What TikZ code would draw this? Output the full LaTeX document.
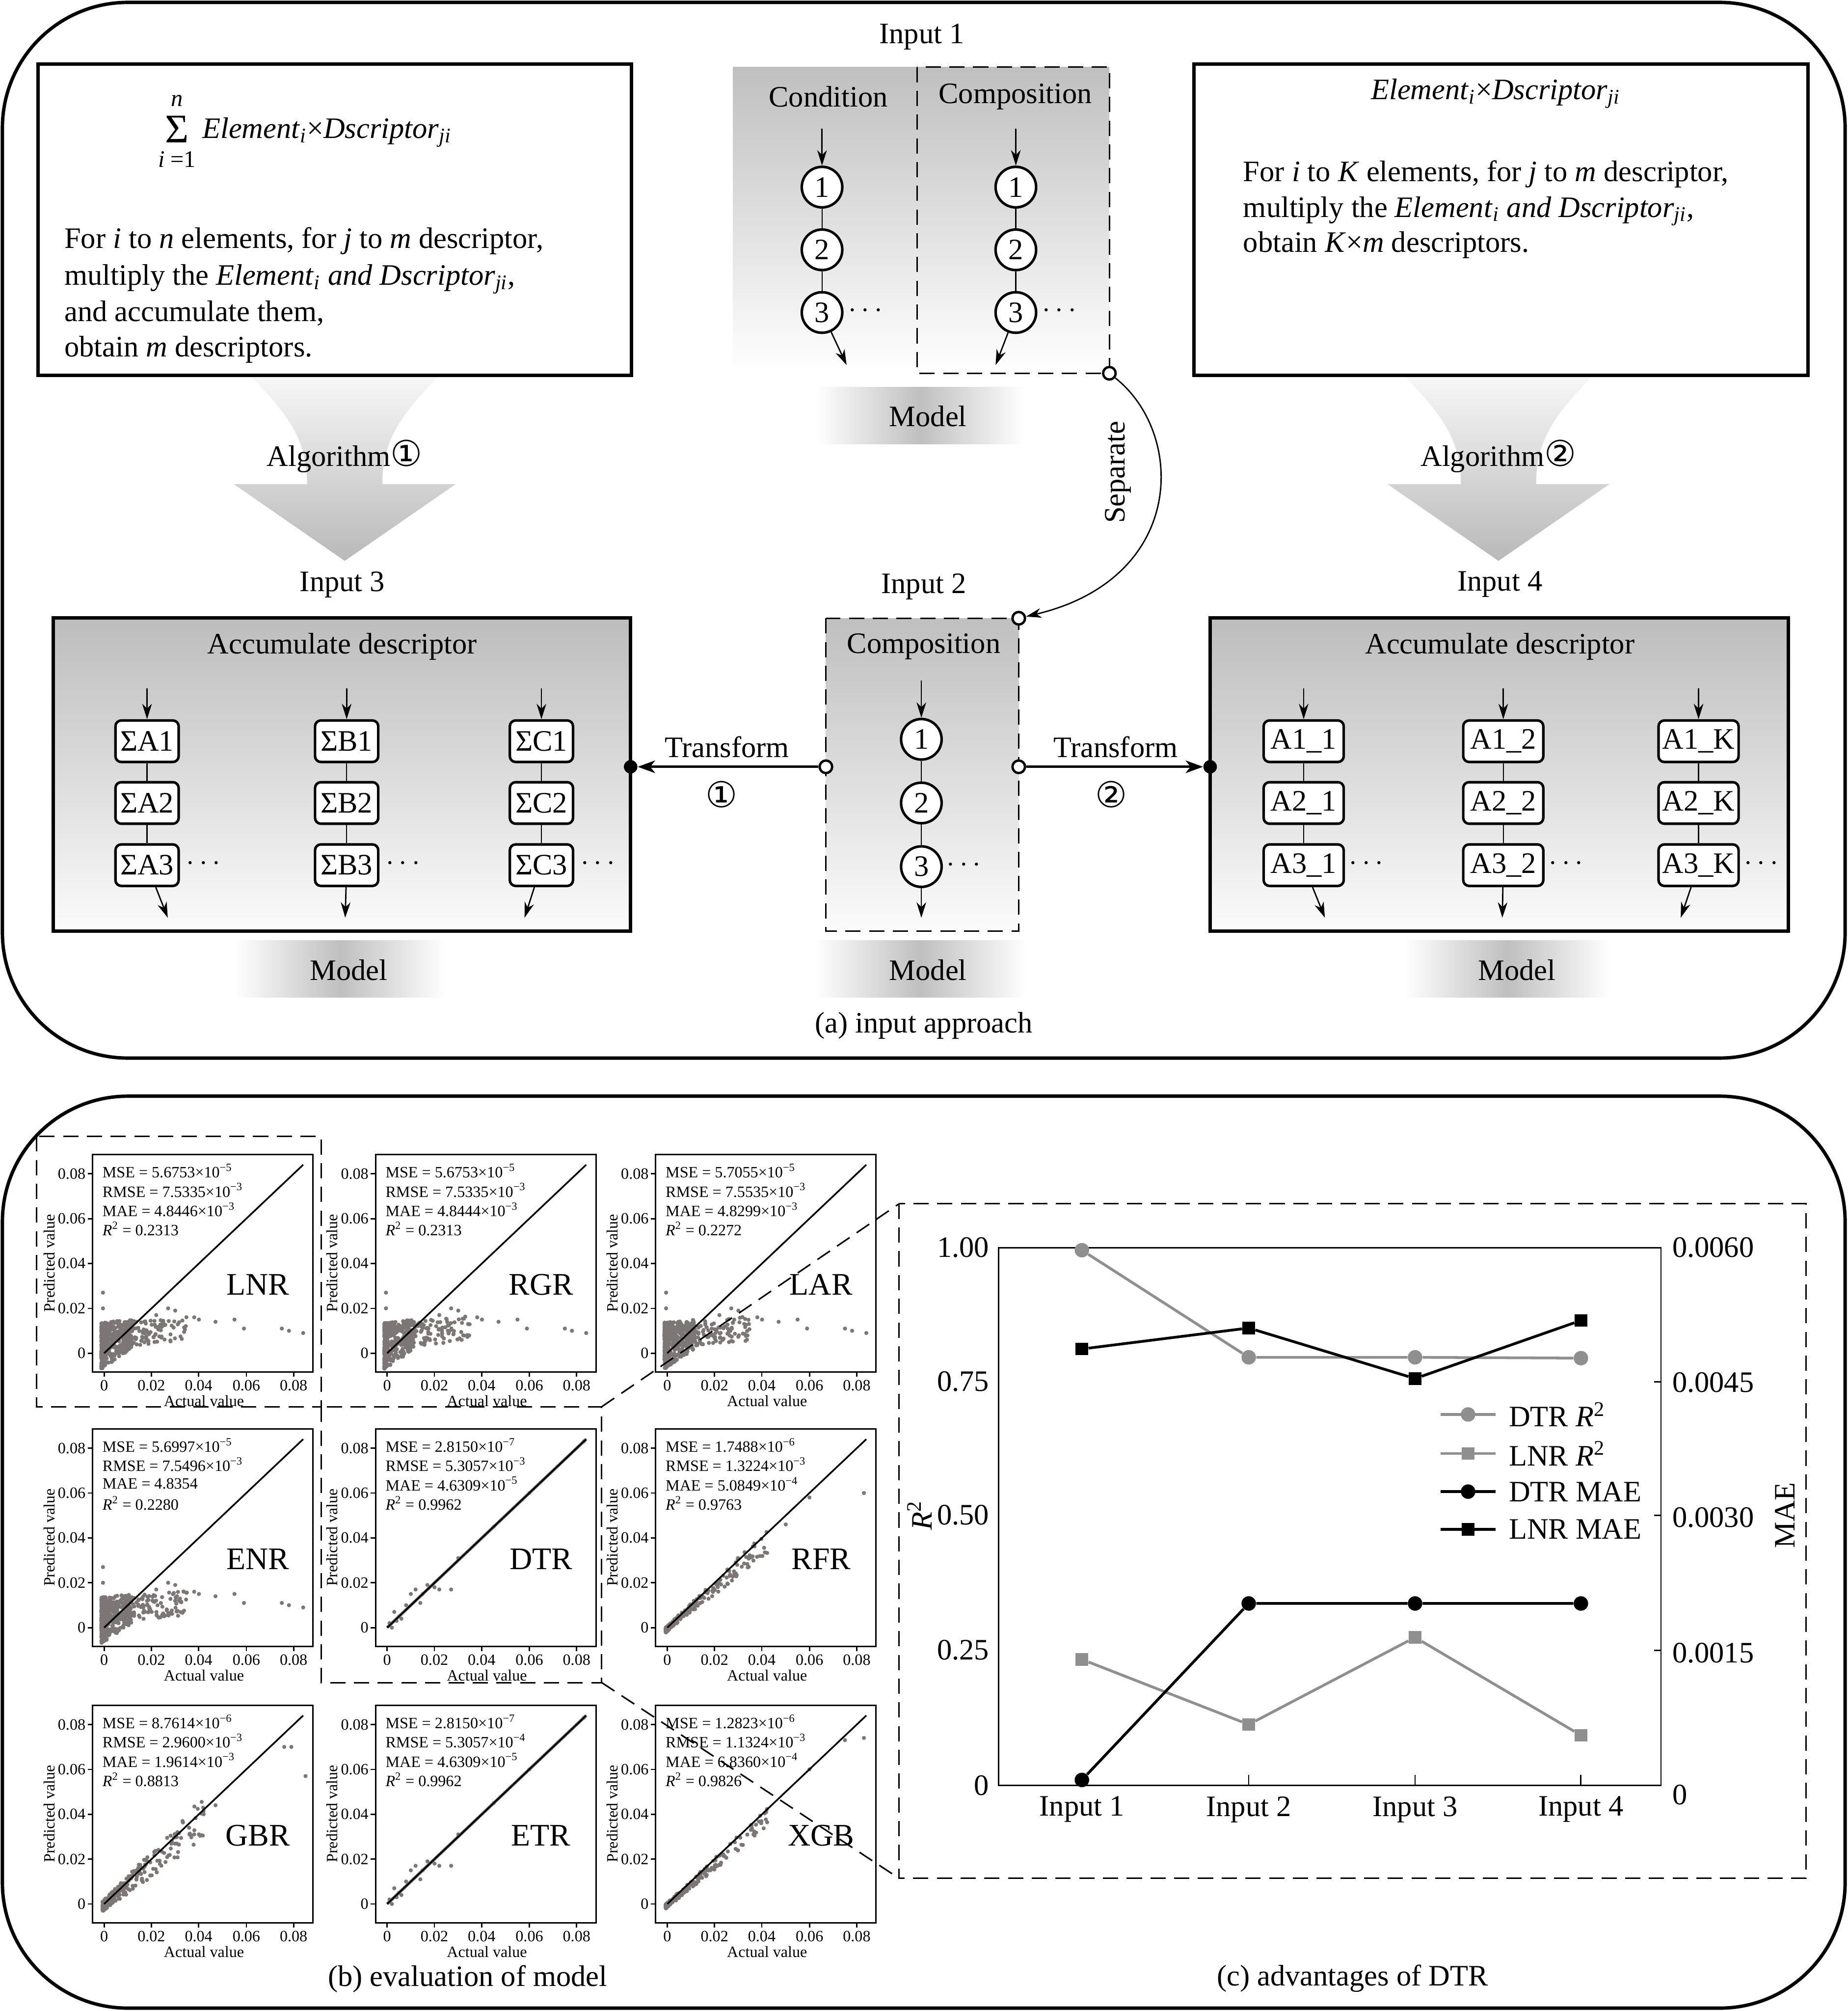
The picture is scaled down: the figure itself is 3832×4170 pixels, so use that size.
\documentclass[tikz,border=0pt]{standalone}
\usepackage{fontspec}
\setmainfont{Liberation Serif}
\newfontfamily\symfont{DejaVu Sans}
\usetikzlibrary{arrows.meta}
\definecolor{ptcol}{RGB}{125,118,118}
\definecolor{gser}{RGB}{143,143,143}
\newcommand\cnum[1]{{\symfont\fontsize{21}{21}\selectfont #1}}

\newcommand\PoorPts{%
\foreach \k in {1,...,380}{%
\pgfmathsetmacro\rr{rnd}%
\pgfmathsetmacro\xa{-1.2+13*\rr*\rr}%
\pgfmathsetmacro\ya{3.8+0.4*\xa+(10-0.3*\xa)*rand}%
\fill[ptcol] (\xa,\ya) circle[radius=1.2pt];}%
\foreach \k in {1,...,130}{%
\pgfmathsetmacro\rr{rnd}%
\pgfmathsetmacro\xa{8+27*\rr*sqrt(\rr)}%
\pgfmathsetmacro\ya{8.5+0.1*(\xa-9)+5.5*rand}%
\fill[ptcol] (\xa,\ya) circle[radius=1.2pt];}%
\foreach \xa/\ya in {-0.5/27,-0.5/20,22/17,27/20,30/19,38/16,40/15,47/14,55/15,59/11,75/11,78/10,84/9}{%
\fill[ptcol] (\xa,\ya) circle[radius=1.2pt];}}

\newcommand\GoodPts[2]{%
\foreach \k in {1,...,#1}{%
\pgfmathsetmacro\rr{rnd}%
\pgfmathsetmacro\xa{-0.6+43*\rr*\rr*\rr}%
\pgfmathsetmacro\ya{0.92*\xa-0.5+#2*(0.5+0.04*\xa)*rand}%
\fill[ptcol] (\xa,\ya) circle[radius=1.2pt];}}

\newcommand\FewPts{%
\draw[ptcol,line width=1.8pt] (0,0) -- (84,84);
\foreach \xa/\ya in {1/2,3/7,5/5,6/4,8/10,10/15,12/17,14/11,17/19,20/18,22/17,27/17,2/0,4/3,15/15,30/31,45/45,60/60,83/83}{%
\fill[ptcol] (\xa,\ya) circle[radius=1.2pt];}}

\newcommand\SPlot[9]{%
\begin{scope}[shift={(#1,#2)}]
\begin{scope}[shift={(24,412)},x=0.049125cm,y=0.0465cm]
\clip (-4.8,-8.3) rectangle (88,88.5);
#9
\end{scope}
\begin{scope}[shift={(24,412)},x=0.049125cm,y=0.0465cm]
\draw[line width=1pt] (0,0) -- (84,84);
\end{scope}
\draw[line width=0.9pt] (0,0) rectangle (457,451);
\foreach \yy/\lab [count=\ci] in {412/0,319/0.02,226/0.04,133/0.06,40/0.08}{%
\draw[line width=0.8pt] (0,\yy) -- (-10,\yy);
\node[small,anchor=east] (#3y\ci) at (-14,\yy) {\lab};}
\foreach \xx/\lab [count=\ci] in {24/0,122/0.02,220/0.04,319/0.06,417/0.08}{%
\draw[line width=0.8pt] (\xx,451) -- (\xx,461);
\node[small,anchor=north] (#3x\ci) at (\xx,467) {\lab};}
\node[small] (#3xl) at (231,511) {Actual value};
\node[small,rotate=90] (#3yl) at (-90,225) {Predicted value};
\node[small,anchor=west] (#3m1) at (20,34) {MSE = #5};
\node[small,anchor=west] (#3m2) at (20,74) {RMSE = #6};
\node[small,anchor=west] (#3m3) at (20,114) {MAE = #7};
\node[small,anchor=west] (#3m4) at (20,154) {\textit{R}\textsuperscript{2} = #8};
\node[big] (#3lab) at (343,270) {#4};
\end{scope}}

\newcommand\AlgArrow[1]{%
\shade[top color=gray!6, bottom color=gray!55] (#1-195,779) .. controls (#1-130,850) and (#1-78,900) .. (#1-78,1004) -- (#1-230,1004) -- (#1,1163) -- (#1+230,1004) -- (#1+78,1004) .. controls (#1+78,900) and (#1+130,850) .. (#1+195,779) -- cycle;}

\begin{document}
\begin{tikzpicture}[x=0.01cm, y=-0.01cm, inner sep=0pt,
  font=\fontsize{17.5}{21}\selectfont,
  txt/.style={font=\fontsize{17.5}{21}\selectfont, inner sep=0pt},
  small/.style={font=\fontsize{9.3}{11}\selectfont, inner sep=0pt},
  big/.style={font=\fontsize{18.5}{22}\selectfont, inner sep=0pt},
  panel/.style={draw, line width=2pt, rounded corners=2.6cm},
  thickbox/.style={draw, line width=2pt},
  dbox/.style={draw, line width=0.9pt, dash pattern=on 9pt off 5pt},
  cnode/.style={circle, draw, line width=1.5pt, fill=white, minimum size=0.84cm, inner sep=0pt},
  rnode/.style={rectangle, rounded corners=0.12cm, draw, line width=1.5pt, fill=white, minimum height=0.86cm, inner sep=1.5pt},
  link/.style={line width=0.7pt},
  arr/.style={line width=0.8pt, -{Stealth[length=0.32cm, width=0.2cm, inset=0.1cm]}},
  harr/.style={line width=1.4pt, -{Stealth[length=0.36cm, width=0.26cm, inset=0.1cm]}},
  opendot/.style={circle, draw, line width=1.4pt, fill=white, minimum size=0.26cm, inner sep=0pt},
  fulldot/.style={circle, fill=black, minimum size=0.28cm, inner sep=0pt},
  gline/.style={gser, line width=1.6pt},
  bline/.style={black, line width=1.6pt},
  gcirc/.style={circle, fill=gser, minimum size=0.3cm, inner sep=0pt},
  gsq/.style={rectangle, fill=gser, minimum size=0.26cm, inner sep=0pt},
  bcirc/.style={circle, fill=black, minimum size=0.3cm, inner sep=0pt},
  bsq/.style={rectangle, fill=black, minimum size=0.26cm, inner sep=0pt}]
\useasboundingbox (0,0) rectangle (3832,4170);

% ================= Panel (a) =================
\draw[panel] (5,5) rectangle (3827,2194);

\AlgArrow{715}
\AlgArrow{3108}
\node[txt] (alg1) at (715,946) {Algorithm\cnum{①}};
\node[txt] (alg2) at (3108,946) {Algorithm\cnum{②}};

% left text box
\draw[thickbox] (79,133) rectangle (1310,778);
\node[font=\fontsize{24}{24}\selectfont] (sum) at (367,268) {Σ};
\node[font=\fontsize{14}{14}\selectfont] (sumn) at (367,209) {\textit{n}};
\node[font=\fontsize{14}{14}\selectfont] (sumi) at (367,330) {\textit{i} =1};
\node[txt, anchor=base west] (f1) at (419,287) {\textit{Element}\textsubscript{\textit{i}}×\textit{Dscriptor}\textsubscript{\textit{ji}}};
\node[txt, anchor=base west] (l1) at (133,515) {For \textit{i} to \textit{n} elements, for \textit{j} to \textit{m} descriptor,};
\node[txt, anchor=base west] (l2) at (133,591) {multiply the \textit{Element}\textsubscript{\textit{i}} \textit{and Dscriptor}\textsubscript{\textit{ji}},};
\node[txt, anchor=base west] (l3) at (133,666) {and accumulate them,};
\node[txt, anchor=base west] (l4) at (133,740) {obtain \textit{m} descriptors.};

% right text box
\draw[thickbox] (2476,133) rectangle (3750,778);
\node[txt, anchor=base] (f2) at (3102,206) {\textit{Element}\textsubscript{\textit{i}}×\textit{Dscriptor}\textsubscript{\textit{ji}}};
\node[txt, anchor=base west] (r1) at (2578,376) {For \textit{i} to \textit{K} elements, for \textit{j} to \textit{m} descriptor,};
\node[txt, anchor=base west] (r2) at (2578,450) {multiply the \textit{Element}\textsubscript{\textit{i}} \textit{and Dscriptor}\textsubscript{\textit{ji}},};
\node[txt, anchor=base west] (r3) at (2578,523) {obtain \textit{K}×\textit{m} descriptors.};

% Input 1
\node[txt] (in1) at (1912,76) {Input 1};
\shade[top color=gray!50, bottom color=white] (1520,139) rectangle (2301,772);
\draw[dbox] (1902,139) rectangle (2301,774);
\node[txt] (cond) at (1718,200) {Condition};
\node[txt] (comp1) at (2106,200) {Composition};
\foreach \cx/\nm/\ox in {1705/a/1756, 2107/b/2065}{
  \node[cnode] (\nm1) at (\cx,388) {1};
  \node[cnode] (\nm2) at (\cx,518) {2};
  \node[cnode] (\nm3) at (\cx,648) {3};
  \coordinate (\nm0) at (\cx,267);
  \coordinate (\nm4) at (\ox,757);
  \draw[arr] (\nm0) -- (\nm1);
  \draw[link] (\nm1) -- (\nm2) -- (\nm3);
  \draw[arr] (\nm3) -- (\nm4);
  \node[txt] (\nm d) at (\cx+90,645) {$\cdots$};
}
\node[opendot] (sep1) at (2301,774) {};
\shade[left color=white, right color=white, middle color=gray!50] (1692,803) rectangle (2126,921);
\node[txt] (m1) at (1925,863) {Model};

% Input 2
\node[txt] (in2) at (1916,1217) {Input 2};
\shade[top color=gray!50, bottom color=gray!3] (1713,1282) rectangle (2113,1931);
\draw[dbox] (1713,1282) rectangle (2113,1931);
\node[txt] (comp2) at (1916,1341) {Composition};
\node[cnode] (c1) at (1911,1533) {1};
\node[cnode] (c2) at (1911,1665) {2};
\node[cnode] (c3) at (1911,1797) {3};
\coordinate (c0) at (1911,1411);
\coordinate (c4) at (1911,1903);
\draw[arr] (c0) -- (c1);
\draw[link] (c1) -- (c2) -- (c3);
\draw[arr] (c3) -- (c4);
\node[txt] (cd) at (1999,1794) {$\cdots$};
\node[opendot] (sep2) at (2113,1282) {};
\node[opendot] (tl) at (1713,1590) {};
\node[opendot] (tr) at (2113,1590) {};
\shade[left color=white, right color=white, middle color=gray!50] (1689,1950) rectangle (2129,2068);
\node[txt] (m2) at (1925,2011) {Model};

% Separate
\draw[arr] (sep1) .. controls (2460,900) and (2460,1200) .. (sep2);
\node[txt, rotate=90] (septxt) at (2319,979) {Separate};

% Input 3
\node[txt] (in3) at (710,1212) {Input 3};
\shade[top color=gray!52, bottom color=gray!3] (110,1281) rectangle (1308,1931);
\draw[thickbox] (110,1281) rectangle (1308,1931);
\node[txt] (acc3) at (710,1341) {Accumulate descriptor};
\foreach \cx/\nm/\ox in {305/A/348, 719/B/716, 1123/C/1088}{
  \node[rnode, minimum width=1.31cm] (s\nm1) at (\cx,1537) {Σ\nm1};
  \node[rnode, minimum width=1.31cm] (s\nm2) at (\cx,1665) {Σ\nm2};
  \node[rnode, minimum width=1.31cm] (s\nm3) at (\cx,1794) {Σ\nm3};
  \coordinate (s\nm0) at (\cx,1427);
  \coordinate (s\nm4) at (\ox,1903);
  \draw[arr] (s\nm0) -- (s\nm1);
  \draw[link] (s\nm1) -- (s\nm2) -- (s\nm3);
  \draw[arr] (s\nm3) -- (s\nm4);
  \node[txt] (s\nm d) at (\cx+117,1791) {$\cdots$};
}
\node[fulldot] (d3) at (1308,1590) {};
\shade[left color=white, right color=white, middle color=gray!50] (487,1950) rectangle (924,2068);
\node[txt] (m3) at (723,2011) {Model};

% Input 4
\node[txt] (in4) at (3111,1212) {Input 4};
\shade[top color=gray!52, bottom color=gray!3] (2510,1281) rectangle (3709,1931);
\draw[thickbox] (2510,1281) rectangle (3709,1931);
\node[txt] (acc4) at (3111,1341) {Accumulate descriptor};
\foreach \cx/\nm/\ox in {2704/1/2748, 3118/2/3116, 3523/K/3486}{
  \node[rnode, minimum width=1.66cm] (k\nm1) at (\cx,1537) {A1\_\nm};
  \node[rnode, minimum width=1.66cm] (k\nm2) at (\cx,1665) {A2\_\nm};
  \node[rnode, minimum width=1.66cm] (k\nm3) at (\cx,1794) {A3\_\nm};
  \coordinate (k\nm0) at (\cx,1427);
  \coordinate (k\nm4) at (\ox,1903);
  \draw[arr] (k\nm0) -- (k\nm1);
  \draw[link] (k\nm1) -- (k\nm2) -- (k\nm3);
  \draw[arr] (k\nm3) -- (k\nm4);
  \node[txt] (k\nm d) at (\cx+130,1791) {$\cdots$};
}
\node[fulldot] (d4) at (2510,1590) {};
\shade[left color=white, right color=white, middle color=gray!50] (2913,1950) rectangle (3340,2068);
\node[txt] (m4) at (3146,2011) {Model};

% Transform arrows
\draw[harr] (tl) -- (d3);
\draw[harr] (tr) -- (d4);
\node[txt] (tf1) at (1508,1549) {Transform};
\node[txt] (tn1) at (1497,1647) {\cnum{①}};
\node[txt] (tf2) at (2314,1549) {Transform};
\node[txt] (tn2) at (2305,1647) {\cnum{②}};

\node[txt] (capa) at (1916,2127) {(a) input approach};

% ================= Panel (b)/(c) =================
\draw[panel] (5,2273) rectangle (3827,4164);

\pgfmathsetseed{4242}
\SPlot{192}{2394}{pA}{LNR}{5.6753×10\textsuperscript{−5}}{7.5335×10\textsuperscript{−3}}{4.8446×10\textsuperscript{−3}}{0.2313}{\PoorPts}
\SPlot{779}{2394}{pB}{RGR}{5.6753×10\textsuperscript{−5}}{7.5335×10\textsuperscript{−3}}{4.8444×10\textsuperscript{−3}}{0.2313}{\PoorPts}
\SPlot{1360}{2394}{pC}{LAR}{5.7055×10\textsuperscript{−5}}{7.5535×10\textsuperscript{−3}}{4.8299×10\textsuperscript{−3}}{0.2272}{\PoorPts}
\SPlot{192}{2963}{pD}{ENR}{5.6997×10\textsuperscript{−5}}{7.5496×10\textsuperscript{−3}}{4.8354}{0.2280}{\PoorPts}
\SPlot{779}{2963}{pE}{DTR}{2.8150×10\textsuperscript{−7}}{5.3057×10\textsuperscript{−3}}{4.6309×10\textsuperscript{−5}}{0.9962}{\FewPts}
\SPlot{1360}{2963}{pF}{RFR}{1.7488×10\textsuperscript{−6}}{1.3224×10\textsuperscript{−3}}{5.0849×10\textsuperscript{−4}}{0.9763}{\GoodPts{250}{2.4}\foreach \xa/\ya in {83/60,60/58,50/46}{\fill[ptcol] (\xa,\ya) circle[radius=1.2pt];}}
\SPlot{192}{3536}{pG}{GBR}{8.7614×10\textsuperscript{−6}}{2.9600×10\textsuperscript{−3}}{1.9614×10\textsuperscript{−3}}{0.8813}{\GoodPts{270}{4.5}\foreach \xa/\ya in {76/70,79/70,85/57,47/44,42/40,36/31,38/31,40/31}{\fill[ptcol] (\xa,\ya) circle[radius=1.2pt];}}
\SPlot{779}{3536}{pH}{ETR}{2.8150×10\textsuperscript{−7}}{5.3057×10\textsuperscript{−4}}{4.6309×10\textsuperscript{−5}}{0.9962}{\FewPts}
\SPlot{1360}{3536}{pI}{XGB}{1.2823×10\textsuperscript{−6}}{1.1324×10\textsuperscript{−3}}{6.8360×10\textsuperscript{−4}}{0.9826}{\GoodPts{250}{2}\foreach \xa/\ya in {83/74,75/73,60/60}{\fill[ptcol] (\xa,\ya) circle[radius=1.2pt];}}

% dashed highlight boxes
\draw[dbox] (76,2356) rectangle (666,2917);
\draw[dbox] (666,2917) rectangle (1248,3489);
\draw[dbox] (1865,2496) rectangle (3746,3895);
\coordinate (hA) at (1248,2917);
\coordinate (hB) at (1248,3489);
\coordinate (hC) at (1865,2496);
\coordinate (hD) at (1865,3895);
\draw[dbox] (hA) -- (hC);
\draw[dbox] (hB) -- (hD);

% chart (c)
\draw[line width=0.8pt] (2071,2587) rectangle (3445,3702);
\foreach \yy in {2865,3142,3422} \draw[line width=0.8pt] (3431,\yy) -- (3445,\yy);
\foreach \xx in {2244,2590,2935,3279} \draw[line width=0.8pt] (\xx,3702) -- (\xx,3680);
\foreach \yy/\lab [count=\ci] in {2587/1.00,2865/0.75,3142/0.50,3422/0.25,3702/0}
  \node[txt, anchor=east] (cl\ci) at (2052,\yy) {\lab};
\foreach \yy/\lab [count=\ci] in {2587/0.0060,2867/0.0045,3147/0.0030,3428/0.0015,3722/0}
  \node[txt, anchor=west] (cr\ci) at (3468,\yy) {\lab};
\foreach \xx/\lab [count=\ci] in {2244/Input 1,2590/Input 2,2935/Input 3,3279/Input 4}
  \node[txt] (cx\ci) at (\xx,3752) {\lab};
\node[txt, rotate=90] (cyl) at (1907,3142) {\textit{R}\textsuperscript{2}};
\node[txt, rotate=90] (cyr) at (3702,3142) {MAE};

\begin{scope}[shift={(2071,3702)}, x=0.01cm, y=11.15cm]
  \foreach \xv/\yv [count=\ci] in {173/0.9946,519/0.7955,864/0.7955,1208/0.794}
    \node[gcirc] (dr\ci) at (\xv,\yv) {};
  \draw[gline] (dr1) -- (dr2) -- (dr3) -- (dr4);
  \foreach \xv/\yv [count=\ci] in {173/0.234,519/0.113,864/0.275,1208/0.093}
    \node[gsq] (lr\ci) at (\xv,\yv) {};
  \draw[gline] (lr1) -- (lr2) -- (lr3) -- (lr4);
  \foreach \xv/\yv [count=\ci] in {173/0.01,519/0.338,864/0.338,1208/0.338}
    \node[bcirc] (dm\ci) at (\xv,\yv) {};
  \draw[bline] (dm1) -- (dm2) -- (dm3) -- (dm4);
  \foreach \xv/\yv [count=\ci] in {173/0.811,519/0.850,864/0.756,1208/0.864}
    \node[bsq] (lm\ci) at (\xv,\yv) {};
  \draw[bline] (lm1) -- (lm2) -- (lm3) -- (lm4);
\end{scope}

% legend
\coordinate (g1a) at (2988,2933); \coordinate (g1b) at (3102,2933);
\coordinate (g2a) at (2988,3014); \coordinate (g2b) at (3102,3014);
\coordinate (g3a) at (2988,3093); \coordinate (g3b) at (3102,3093);
\coordinate (g4a) at (2988,3171); \coordinate (g4b) at (3102,3171);
\draw[gline] (g1a) -- (g1b); \node[gcirc] (lg1) at (3045,2933) {};
\draw[gline] (g2a) -- (g2b); \node[gsq] (lg2) at (3045,3014) {};
\draw[bline] (g3a) -- (g3b); \node[bcirc] (lg3) at (3045,3093) {};
\draw[bline] (g4a) -- (g4b); \node[bsq] (lg4) at (3045,3171) {};
\node[txt, anchor=west] (lt1) at (3129,2933) {DTR \textit{R}\textsuperscript{2}};
\node[txt, anchor=west] (lt2) at (3129,3014) {LNR \textit{R}\textsuperscript{2}};
\node[txt, anchor=west] (lt3) at (3129,3093) {DTR MAE};
\node[txt, anchor=west] (lt4) at (3129,3171) {LNR MAE};

\node[txt] (capb) at (970,4103) {(b) evaluation of model};
\node[txt] (capc) at (2805,4103) {(c) advantages of DTR};
\end{tikzpicture}
\end{document}
